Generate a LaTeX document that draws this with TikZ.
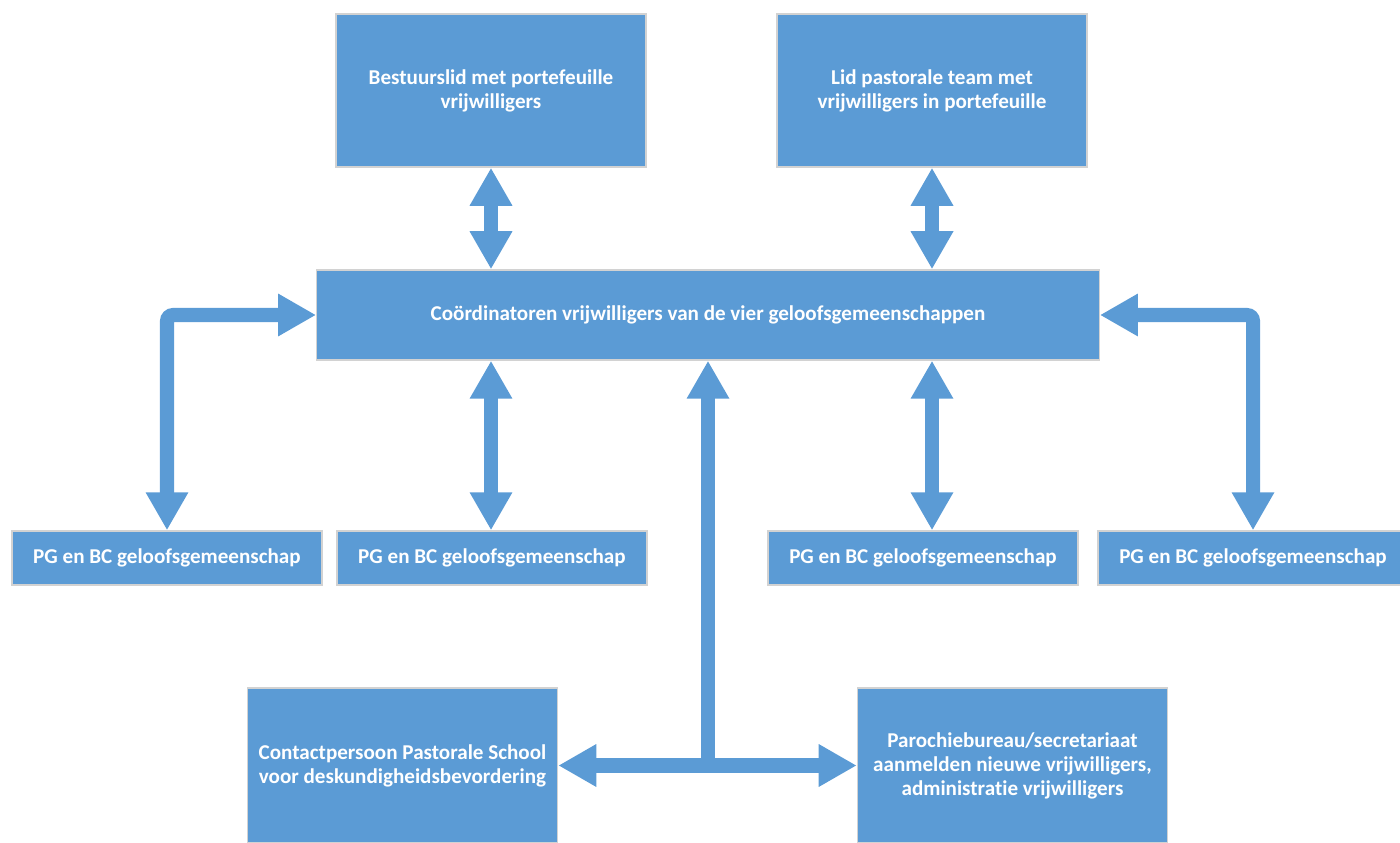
\documentclass[tikz,border=0pt]{standalone}
\usepackage{fontspec}
\setmainfont{Carlito}[Ligatures=NoCommon]
\usepackage{xcolor}
\usetikzlibrary{arrows.meta, positioning, calc}
\definecolor{boxblue}{HTML}{5B9BD5}
\tikzset{
  unit/.style={rectangle, fill=boxblue, draw=gray!35, line width=0.4pt, text=white,
    font=\bfseries\fontsize{6.0}{6.8}\selectfont, align=center, inner sep=0pt},
  bigunit/.style={unit, minimum width=3.1cm, minimum height=1.53cm},
  pgunit/.style={unit, minimum width=3.1cm, minimum height=0.54cm},
  link/.style={draw=boxblue, line width=1.4mm, rounded corners=0.6mm},
  >={Triangle[length=3.8mm,width=4mm]}
}

\begin{document}
\begin{tikzpicture}[x=0.01cm, y=-0.01cm]
            \clip (0,0) rectangle (1400,843);
            \useasboundingbox (0,0) rectangle (1400,843);

            % top row
            \node[bigunit] (bestuur) at (491,90.5) {Bestuurslid met portefeuille\\vrijwilligers};
            \node[bigunit] (pastor) at (932,90.5) {Lid pastorale team met\\vrijwilligers in portefeuille};

            % coordinators
            \node[unit, minimum width=7.82cm, minimum height=0.9cm] (coord) at (708,315)
              {Coördinatoren vrijwilligers van de vier geloofsgemeenschappen};

            % the four communities
            \node[pgunit] (pg1) at (167,558) {PG en BC geloofsgemeenschap};
            \node[pgunit] (pg2) at (492,558) {PG en BC geloofsgemeenschap};
            \node[pgunit] (pg3) at (923,558) {PG en BC geloofsgemeenschap};
            \node[pgunit] (pg4) at (1253,558) {PG en BC geloofsgemeenschap};

            % bottom row
            \node[bigunit, minimum height=1.55cm] (school) at (402.5,765.5)
              {Contactpersoon Pastorale School\\voor deskundigheidsbevordering};
            \node[bigunit, minimum height=1.55cm] (bureau) at (1012.5,765.5)
              {Parochiebureau/secretariaat\\aanmelden nieuwe vrijwilligers,\\administratie vrijwilligers};

            \draw[link,<->] (bestuur.south) -- (bestuur |- coord.north);
            \draw[link,<->] (pastor.south) -- (pastor |- coord.north);

            \draw[link,<->] (pg1.north) |- (coord.west);
            \draw[link,<->] (pg4.north) |- (coord.east);
            \draw[link,<->] (coord.south -| bestuur) -- (bestuur |- pg2.north);
            \draw[link,<->] (coord.south -| pastor) -- (pastor |- pg3.north);

            \coordinate (split) at (coord.south |- school.east);
            \draw[link,<->] (school.east) -- (bureau.west);
            \draw[link,->] ($(split)+(0,3)$) -- (coord.south);
          \end{tikzpicture}
\end{document}
